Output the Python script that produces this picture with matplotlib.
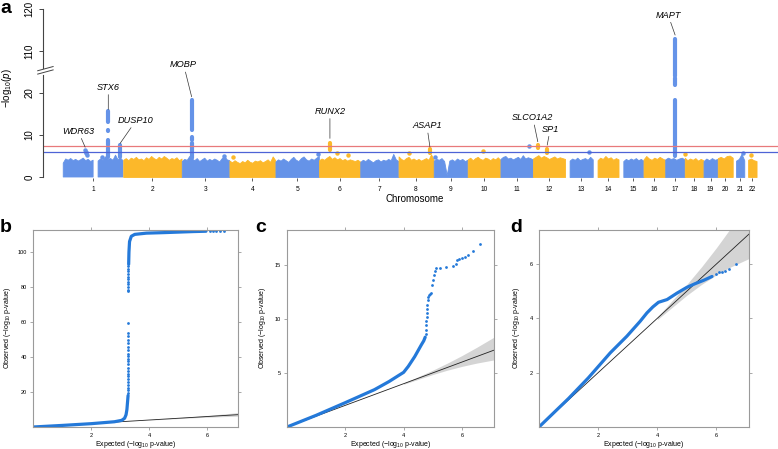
import matplotlib
matplotlib.use('Agg')
import matplotlib.pyplot as plt
import numpy as np

plt.rcParams['font.family'] = ['Liberation Sans', 'DejaVu Sans']
plt.rcParams['mathtext.fontset'] = 'custom'
plt.rcParams['mathtext.rm'] = 'Liberation Sans'
plt.rcParams['mathtext.it'] = 'Liberation Sans:italic'

W, H = 778, 449
BLUE = '#6593e8'
GOLD = '#fcb82a'
QQBLUE = '#2479d9'
nan = np.nan

# ---------------- panel a: Manhattan ----------------
chrom_len = [249, 243, 198, 191, 181, 171, 159, 146, 141, 136, 135, 134,
             115, 107, 103, 90, 81, 78, 59, 63, 48, 51]
first_snp = [1, 1, 1, 1, 1, 1, 1, 1, 1, 1, 1, 1,
             19, 20, 20, 1, 1, 1, 1, 1, 14, 16]

# upper edge of the dense cloud of SNPs, per chromosome (-log10 p)
tops = [
    [3.3, 4.3, 4.0, 4.4, 3.9, 4.2, 3.8, 4.1, 4.5, 3.9, 4.2, 3.7, 4.0, nan, 3.8, 4.3, 4.0, 4.8, 4.2, 4.4, 4.0, 5.2, 4.1, 4.5, 3.9],
    [4.1, 4.5, 4.0, 4.6, 4.3, 4.8, 4.2, 4.4, 4.0, 4.7, 4.3, 5.0, 4.5, 4.2, 4.8, 4.4, 5.0, 4.6, 4.1, 4.5, 4.3, 4.7, 4.0, 4.4],
    [3.8, 4.3, 4.1, 5.0, 4.4, 4.0, 4.5, 3.8, 4.2, 4.6, 3.9, 4.3, 4.0, 4.4, 4.1, 3.7, 4.5, 5.0, 4.2, 4.0],
    [3.9, 3.5, 4.0, 3.6, 3.3, 3.8, 3.5, 4.1, 3.6, 3.4, 3.9, 3.7, 4.0, 3.5, 3.8, 4.2, 3.6, 4.9, 4.0],
    [3.7, 4.2, 3.9, 4.4, 4.0, 3.6, 4.3, 4.8, 4.1, 3.8, 4.5, 4.9, 4.2, 3.9, 4.4, 4.1, 4.6, 5.0],
    [4.0, 4.4, 4.1, 4.6, 5.0, 4.3, 4.7, 4.2, 4.5, 4.0, 4.3, 3.9, 4.2, 4.0, 3.8, 4.1, 3.7],
    [3.6, 4.1, 3.8, 4.3, 3.9, 3.5, 4.0, 4.2, 3.7, 4.1, 3.9, 4.3, 4.0, 5.5, 4.2, 3.8],
    [4.9, 4.3, 4.0, 4.5, 4.8, 4.1, 4.4, 4.0, 4.3, 3.9, 4.2, 4.5, 4.1, 5.4, 4.2],
    [3.9, 4.3, 4.1, 4.5, 3.8, 0.5, 3.9, 4.2, 3.8, 4.4, 4.0, 4.3, 3.8, 4.1],
    [4.2, 4.6, 4.0, 4.5, 4.8, 4.3, 4.1, 4.6, 4.4, 4.0, 4.5, 4.2, 4.7, 4.1],
    [4.3, 4.8, 5.0, 4.4, 4.6, 4.2, 4.5, 4.8, 4.3, 5.2, 4.4, 4.7, 4.5, 4.2],
    [4.4, 4.8, 5.2, 4.6, 5.0, 4.7, 4.3, 4.6, 4.9, 4.4, 4.7, 4.5, 4.3],
    [3.9, 4.4, 4.1, 4.6, 4.0, 4.3, 4.5, 4.1, 4.8, 4.2],
    [4.0, 4.6, 4.3, 5.0, 4.4, 4.7, 4.1, 4.5, 4.2],
    [3.8, 4.3, 4.0, 4.4, 4.1, 4.5, 4.0, 4.3, 3.9],
    [4.2, 5.0, 4.4, 4.1, 4.6, 4.3, 4.8, 4.4, 4.1],
    [4.2, 4.6, 4.3, 4.5, 4.1, 4.4, 4.6, 4.2],
    [4.6, 4.0, 4.4, 4.1, 4.5, 3.9, 4.3, 4.0],
    [3.8, 4.4, 4.0, 4.5, 4.1, 4.3],
    [4.5, 4.8, 4.4, 5.0, 5.1, 4.6],
    [3.9, 4.3, 5.5, 4.0],
    [4.1, 4.4, 4.0, 3.8],
]

# columns of associated SNPs: chromosome, position (Mb), lowest and highest -log10 p
col_chr = [1, 1, 1, 1, 1, 3, 3, 3, 6, 8, 12, 12, 17, 17, 17]
col_pos = [188, 188, 188, 188, 237, 42, 42, 42, 46, 131, 21, 60, 42, 42, 42]
col_lo = [4.8, 7.6, 10.9, 13.1, 4.8, 4.5, 8.8, 11.2, 6.4, 5.6, 6.9, 5.6, 5.0, 101.9, 104.0]
col_hi = [6.9, 8.8, 11.2, 15.6, 7.6, 8.1, 9.5, 18.3, 8.1, 6.6, 7.6, 6.6, 18.3, 103.5, 112.8]

# isolated SNPs above the cloud
dot_chr = [1, 1, 1, 1, 1, 3, 4, 5, 6, 6, 8, 9, 10, 11, 13, 18, 21, 22]
dot_pos = [91, 94, 97, 100, 161, 176, 17, 177, 75, 121, 44, 6, 64, 119, 99, 2, 43, 28]
dot_val = [6.4, 6.0, 5.6, 5.3, 4.8, 5.0, 4.8, 5.5, 5.7, 5.2, 5.7, 4.8, 6.2, 7.3, 6.0, 5.5, 5.7, 5.2]

gene_names = ['WDR63', 'STX6', 'DUSP10', 'MOBP', 'RUNX2', 'ASAP1', 'SLCO1A2', 'SP1', 'MAPT']
gene_chr = [1, 1, 1, 3, 6, 8, 12, 12, 17]
gene_pos = [92, 188, 237, 42, 46, 131, 21, 60, 42]
gene_top = [7.1, 16.1, 8.0, 19.1, 9.2, 7.2, 8.4, 7.6, 113.8]
label_off = [(-7, 16), (0, 22), (16, 23), (-8, 32), (0, 27), (-3, 21), (-5, 24), (3, 16), (-7, 20)]

gw_line = 7.3
sugg_line = 6.0

# ---------------- QQ plots ----------------
band_x = [4.0, 4.5, 5.0, 5.5, 6.0, 6.5, 7.1]
band_lo = [3.95, 4.4, 4.85, 5.25, 5.6, 5.9, 6.2]
band_hi = [4.05, 4.65, 5.25, 5.9, 6.6, 7.35, 8.3]

b_line1_x = [0, 1, 2, 2.8, 3.05, 3.15, 3.2, 3.23, 3.25, 3.27]
b_line1_y = [0, 0.9, 1.9, 3.0, 3.8, 5, 7, 10, 14, 18]
b_col_y = [19.5, 21, 22.5, 24, 26, 27.5, 29, 30.5, 32, 34, 36, 37.5, 39, 40.5, 42,
           44, 46, 48, 50, 52, 53.5, 59.5, 77.5, 78.5, 80, 81.5, 83, 84.5, 86,
           87.5, 89, 90.5, 92]
b_line2_x = [3.29, 3.3, 3.32, 3.38, 3.5, 3.9, 4.5, 5.0, 5.5, 5.95]
b_line2_y = [93, 100, 106, 109, 110.1, 110.8, 111.1, 111.4, 111.7, 111.9]
b_tail_x = [6.1, 6.2, 6.3, 6.42, 6.58]
b_tail_y = [112.0, 112.0, 112.1, 112.1, 112.2]

c_line_x = [0, 1, 2, 3, 3.5, 3.87, 4.0, 4.16, 4.38, 4.61, 4.69, 4.74]
c_line_y = [0, 1.08, 2.25, 3.45, 4.2, 4.83, 5.05, 5.6, 6.5, 7.6, 7.96, 8.3]
c_pts_x = [4.76, 4.77, 4.78, 4.78, 4.79, 4.79, 4.8, 4.81, 4.82, 4.84, 4.87, 4.91, 4.95,
           4.98, 5.0, 5.03, 5.06, 5.1, 5.24, 5.47, 5.7, 5.78, 5.82, 5.9, 5.99, 6.1,
           6.21, 6.38, 6.61]
c_pts_y = [8.6, 9.0, 9.4, 9.8, 10.2, 10.5, 10.9, 11.3, 11.7, 12.0, 12.2, 12.3, 12.4,
           13.1, 13.6, 14.0, 14.4, 14.65, 14.7, 14.8, 14.9, 15.1, 15.4, 15.5, 15.6,
           15.7, 15.85, 16.3, 16.9]

d_line_x = [0, 1.0, 1.67, 2.41, 2.97, 3.42, 3.65, 3.85, 4.04, 4.33, 4.67, 5.0, 5.29, 5.57, 5.85]
d_line_y = [0, 1.05, 1.81, 2.73, 3.34, 3.89, 4.2, 4.42, 4.59, 4.69, 4.93, 5.14, 5.28, 5.4, 5.54]
d_pts_x = [6.0, 6.08, 6.2, 6.3, 6.42, 6.67]
d_pts_y = [5.62, 5.7, 5.72, 5.75, 5.81, 6.0]


def ax_px(left, right, top, bottom):
    return [left / W, 1 - bottom / H, (right - left) / W, (bottom - top) / H]


def yt(v):
    v = np.asarray(v, dtype=float)
    return np.where(v <= 25, v, v - 80)


fig = plt.figure(figsize=(W / 100, H / 100), dpi=100)

# ---- panel a
ax = fig.add_axes(ax_px(43, 778, 5, 178))
offs = np.concatenate([[0], np.cumsum(chrom_len)[:-1]])
colors = [BLUE if i % 2 == 0 else GOLD for i in range(22)]
centers = []
for i in range(22):
    h = np.array(tops[i], dtype=float)
    x = offs[i] + np.linspace(first_snp[i], chrom_len[i], len(h))
    ax.fill_between(x, 0, h, color=colors[i], lw=0.6, edgecolor=colors[i])
    centers.append(offs[i] + (first_snp[i] + chrom_len[i]) / 2)

for c, p, lo, hi in zip(col_chr, col_pos, col_lo, col_hi):
    ax.plot([offs[c - 1] + p] * 2, yt([lo, hi]), color=colors[c - 1], lw=3,
            solid_capstyle='round')
for c, p, v in zip(dot_chr, dot_pos, dot_val):
    ax.plot(offs[c - 1] + p, yt(v), 'o', color=colors[c - 1], ms=3.2, mew=0)

ax.axhline(gw_line, color='#e8797b', lw=0.9)
ax.axhline(sugg_line, color='#4e63d6', lw=0.9)

for g, c, p, t, (dx, dy) in zip(gene_names, gene_chr, gene_pos, gene_top, label_off):
    ax.annotate(g, xy=(offs[c - 1] + p, yt(t)), xytext=(dx, dy), textcoords='offset pixels',
                ha='center', va='center', fontsize=6.6, style='italic',
                arrowprops=dict(arrowstyle='-', lw=0.5, color='#333333', shrinkA=0, shrinkB=0))

xmin = -20 / 0.2409
ax.set_xlim(xmin, (778 - 63) / 0.2409)
ax.set_ylim(-1 / 4.2, 40 + 4 / 4.2)
for s in ax.spines.values():
    s.set_visible(False)
ax.set_xticks(centers)
ax.set_xticklabels([str(i + 1) for i in range(22)], fontsize=4.8)
ax.tick_params(axis='x', length=2.5, width=0.6, pad=3, color='#444444')
ax.set_yticks([0, 10, 20, 30, 40])
ax.set_yticklabels(['0', '10', '20', '110', '120'], rotation=90, va='center', fontsize=7)
ax.tick_params(axis='y', length=3, width=0.7, pad=3, color='#444444')
ax.plot([xmin, xmin], [0, 24.4], color='#444444', lw=0.8, clip_on=False)
ax.plot([xmin, xmin], [26.0, 40], color='#444444', lw=0.8, clip_on=False)
for y0 in (24.5, 25.3):
    ax.plot([xmin - 22, xmin + 42], [y0, y0 + 1.0], color='#444444', lw=0.7, clip_on=False)
fig.text(7 / W, 1 - 88 / H, r'$-$log$_{10}$($p$)', fontsize=7, rotation=90,
         ha='center', va='center')
fig.text(415 / W, 1 - 199 / H, 'Chromosome', ha='center', va='center', fontsize=7)

# ---- QQ panels
def qq_axes(rect, xmax, ymax, yticks, ylab_x):
    a = fig.add_axes(rect)
    a.fill_between(band_x, band_lo, band_hi, color='#d4d4d4', lw=0)
    a.plot([0, 8], [0, 8], color='#222222', lw=0.6)
    a.set_xlim(0, xmax)
    a.set_ylim(0, ymax)
    a.set_xticks([2, 4, 6])
    a.set_yticks(yticks)
    for s in a.spines.values():
        s.set_color('#9a9a9a')
        s.set_linewidth(0.8)
    a.tick_params(direction='out', length=2.5, width=0.6, color='#9a9a9a',
                  labelsize=4, top=True, right=True, pad=2)
    a.set_xlabel(r'Expected ($-$log$_{10}$ p-value)', fontsize=5)
    a.xaxis.set_label_coords(0.5, -0.062)
    fig.text(ylab_x / W, 1 - 328 / H, r'Observed ($-$log$_{10}$ p-value)', fontsize=5,
             rotation=90, ha='center', va='center')
    return a

axb = qq_axes(ax_px(33, 238, 230, 427), 7.05, 112.6, [20, 40, 60, 80, 100], 8)
axb.plot(b_line1_x, b_line1_y, color=QQBLUE, lw=2.3, solid_capstyle='round', solid_joinstyle='round')
axb.plot([3.28] * len(b_col_y), b_col_y, 'o', color=QQBLUE, ms=2, mew=0)
axb.plot(b_line2_x, b_line2_y, color=QQBLUE, lw=2.3, solid_capstyle='round', solid_joinstyle='round')
axb.plot(b_tail_x, b_tail_y, 'o', color=QQBLUE, ms=2, mew=0, clip_on=False)

axc = qq_axes(ax_px(287, 494, 230, 427), 7.1, 18.2, [5, 10, 15], 262)
axc.plot(c_line_x, c_line_y, color=QQBLUE, lw=2.3, solid_capstyle='round', solid_joinstyle='round')
axc.plot(c_pts_x, c_pts_y, 'o', color=QQBLUE, ms=2, mew=0)

axd = qq_axes(ax_px(539, 749, 230, 427), 7.1, 7.25, [2, 4, 6], 517)
axd.plot(d_line_x, d_line_y, color=QQBLUE, lw=2.3, solid_capstyle='round', solid_joinstyle='round')
axd.plot(d_pts_x, d_pts_y, 'o', color=QQBLUE, ms=2, mew=0)

for letter, xp, yp in [('a', 0, 13), ('b', 0, 232), ('c', 255, 232), ('d', 510, 232)]:
    fig.text(xp / W, 1 - yp / H, letter, fontsize=14, fontweight='bold', va='baseline', ha='left')

fig.savefig('out.png', dpi=100)
